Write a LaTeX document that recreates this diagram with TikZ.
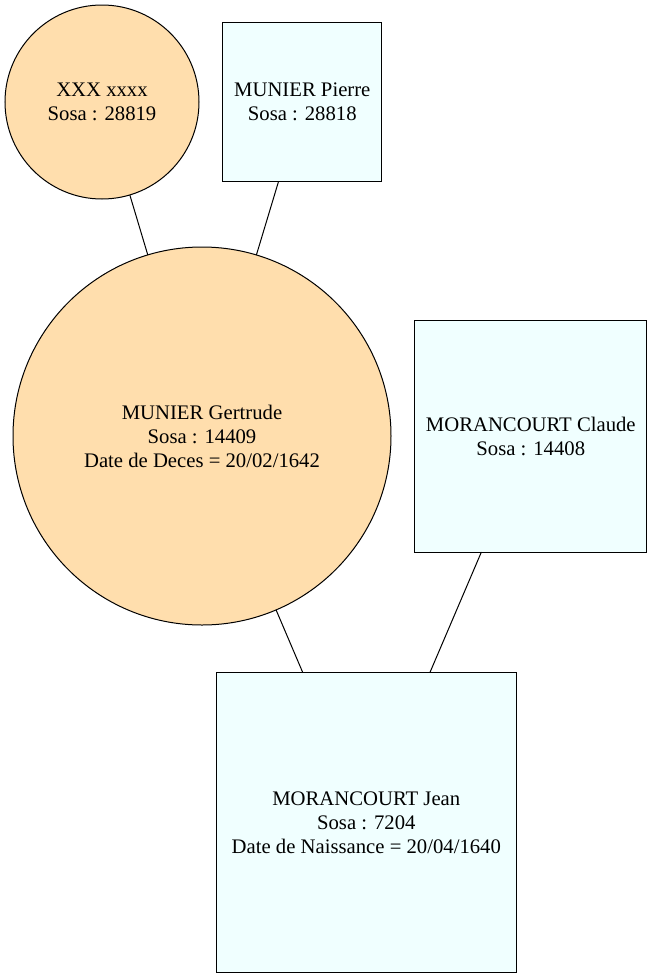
\documentclass[tikz,border=0pt]{standalone}
\usepackage{fontspec}
\setmainfont{Liberation Serif}
\newfontfamily\gvfont{Liberation Serif}
\definecolor{peach}{RGB}{255,222,173}
\definecolor{azurebox}{RGB}{240,255,255}
\begin{document}
\begin{tikzpicture}[x=1pt,y=1pt,
  person/.style={draw=black, line width=1pt, inner sep=0pt, outer sep=0pt, align=center,
    font=\gvfont\fontsize{20.7}{24}\selectfont},
  female/.style={person, circle, fill=peach},
  male/.style={person, rectangle, fill=azurebox},
  link/.style={draw=black, line width=1pt}]
\useasboundingbox (0,0) rectangle (652,-978);
\fill[white] (0,0) rectangle (652,-978);
\node[female, minimum size=194] (xxx) at (102,-102) {XXX xxxx\\Sosa : 28819};
\node[male, minimum width=159, minimum height=159] (pierre) at (302.3,-102.2) {MUNIER Pierre\\Sosa : 28818};
\node[female, minimum size=378] (gertrude) at (202,-436) {MUNIER Gertrude\\Sosa : 14409\\Date de Deces = 20/02/1642};
\node[male, minimum width=232, minimum height=232] (claude) at (530.8,-436) {MORANCOURT Claude\\Sosa : 14408};
\node[male, minimum width=300.5, minimum height=300.5] (jean) at (366.3,-822.5) {MORANCOURT Jean\\Sosa : 7204\\Date de Naissance = 20/04/1640};
\draw[link] (xxx) -- (gertrude);
\draw[link] (pierre) -- (gertrude);
\draw[link] (gertrude) -- (jean);
\draw[link] (claude) -- (jean);
\end{tikzpicture}
\end{document}
